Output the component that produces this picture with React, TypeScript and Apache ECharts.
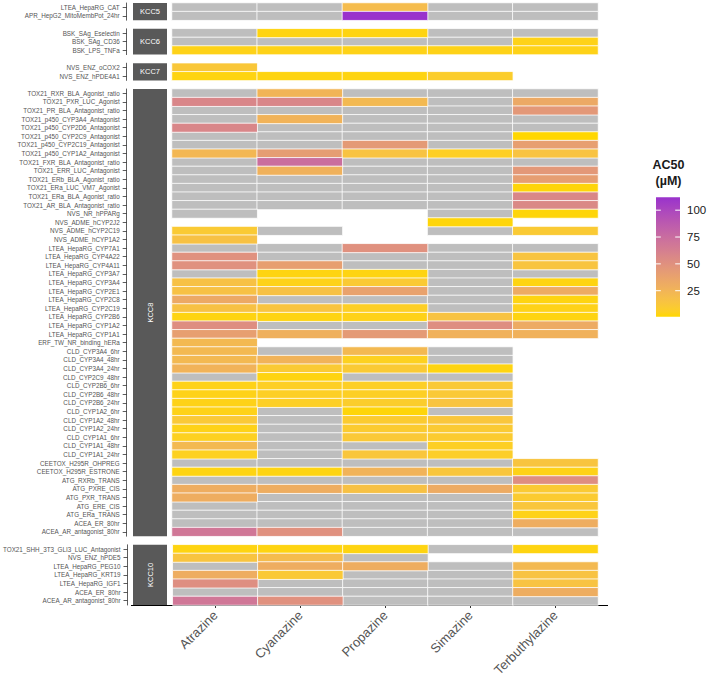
import { useEffect, useRef } from "react";
import * as echarts from "echarts";

// ---- data -----------------------------------------------------------------
// AC50 values in µM. NA = tested but no AC50 (drawn grey); __ = not tested (blank).
const NA = "NA";
const __ = null;

const compounds = ["Atrazine", "Cyanazine", "Propazine", "Simazine", "Terbuthylazine"];

const kcc5Assays = ["LTEA_HepaRG_CAT", "APR_HepG2_MitoMembPot_24hr"];
const kcc5AC50 = [
  [NA, NA, 20, NA, NA],
  [NA, NA, 112, NA, NA],
];

const kcc6Assays = ["BSK_SAg_Eselectin", "BSK_SAg_CD36", "BSK_LPS_TNFa"];
const kcc6AC50 = [
  [NA, 3, 3, NA, NA],
  [NA, NA, NA, NA, 4],
  [4, 4, 4, 4, 4],
];

const kcc7Assays = ["NVS_ENZ_oCOX2", "NVS_ENZ_hPDE4A1"];
const kcc7AC50 = [
  [12, __, __, __, __],
  [3, 3, 3, 8, __],
];

const kcc8Assays = [
  "TOX21_RXR_BLA_Agonist_ratio",
  "TOX21_PXR_LUC_Agonist",
  "TOX21_PR_BLA_Antagonist_ratio",
  "TOX21_p450_CYP3A4_Antagonist",
  "TOX21_p450_CYP2D6_Antagonist",
  "TOX21_p450_CYP2C9_Antagonist",
  "TOX21_p450_CYP2C19_Antagonist",
  "TOX21_p450_CYP1A2_Antagonist",
  "TOX21_FXR_BLA_Antagonist_ratio",
  "TOX21_ERR_LUC_Antagonist",
  "TOX21_ERb_BLA_Agonist_ratio",
  "TOX21_ERa_LUC_VM7_Agonist",
  "TOX21_ERa_BLA_Agonist_ratio",
  "TOX21_AR_BLA_Antagonist_ratio",
  "NVS_NR_hPPARg",
  "NVS_ADME_hCYP2J2",
  "NVS_ADME_hCYP2C19",
  "NVS_ADME_hCYP1A2",
  "LTEA_HepaRG_CYP7A1",
  "LTEA_HepaRG_CYP4A22",
  "LTEA_HepaRG_CYP4A11",
  "LTEA_HepaRG_CYP3A7",
  "LTEA_HepaRG_CYP3A4",
  "LTEA_HepaRG_CYP2E1",
  "LTEA_HepaRG_CYP2C8",
  "LTEA_HepaRG_CYP2C19",
  "LTEA_HepaRG_CYP2B6",
  "LTEA_HepaRG_CYP1A2",
  "LTEA_HepaRG_CYP1A1",
  "ERF_TW_NR_binding_hERa",
  "CLD_CYP3A4_6hr",
  "CLD_CYP3A4_48hr",
  "CLD_CYP3A4_24hr",
  "CLD_CYP2C9_48hr",
  "CLD_CYP2B6_6hr",
  "CLD_CYP2B6_48hr",
  "CLD_CYP2B6_24hr",
  "CLD_CYP1A2_6hr",
  "CLD_CYP1A2_48hr",
  "CLD_CYP1A2_24hr",
  "CLD_CYP1A1_6hr",
  "CLD_CYP1A1_48hr",
  "CLD_CYP1A1_24hr",
  "CEETOX_H295R_OHPREG",
  "CEETOX_H295R_ESTRONE",
  "ATG_RXRb_TRANS",
  "ATG_PXRE_CIS",
  "ATG_PXR_TRANS",
  "ATG_ERE_CIS",
  "ATG_ERa_TRANS",
  "ACEA_ER_80hr",
  "ACEA_AR_antagonist_80hr",
];
const kcc8AC50 = [
  [NA, 25, NA, NA, NA],
  [58, 58, 22, NA, 33],
  [NA, NA, NA, NA, 45],
  [NA, 26, NA, NA, NA],
  [58, NA, NA, NA, NA],
  [NA, NA, NA, NA, 0.8],
  [NA, NA, 44, NA, 40],
  [23, 42, 15, 6, 15],
  [NA, 74, NA, NA, NA],
  [NA, 27, NA, NA, 45],
  [NA, NA, NA, NA, 41],
  [NA, NA, NA, NA, 2],
  [NA, NA, NA, NA, 57],
  [NA, NA, NA, NA, 56],
  [NA, __, __, NA, 2],
  [__, __, __, 2, __],
  [10, NA, __, NA, 10],
  [16, __, __, __, __],
  [NA, NA, 50, NA, NA],
  [50, NA, NA, NA, 14],
  [50, 40, NA, NA, 14],
  [NA, 3, 3, NA, NA],
  [16, 4, 10, NA, 3],
  [16, 16, 38, NA, 32],
  [33, NA, NA, NA, 3],
  [16, 14, 6, NA, 4],
  [3, 3, 4, 15, 3],
  [52, NA, NA, 52, 32],
  [40, 28, 44, 27, 27],
  [22, __, __, __, __],
  [22, NA, 22, NA, __],
  [22, 26, 5, NA, __],
  [26, 10, 10, 3, __],
  [NA, 3, NA, NA, __],
  [4, 6, 6, 11, __],
  [4, 6, 6, 11, __],
  [4, 6, 8, 14, __],
  [4, NA, 2, NA, __],
  [11, NA, 9, 13, __],
  [4, NA, 9, 10, __],
  [5, NA, 11, 9, __],
  [22, NA, NA, 6, __],
  [5, NA, 13, 7, __],
  [NA, NA, NA, NA, 14],
  [3, 3, 26, 13, 4],
  [NA, NA, NA, NA, 52],
  [30, 30, 16, 32, 10],
  [30, NA, NA, NA, 9],
  [NA, NA, NA, NA, 13],
  [NA, NA, NA, NA, 4],
  [NA, NA, NA, NA, 30],
  [68, 50, NA, NA, NA],
];

const kcc10Assays = [
  "TOX21_SHH_3T3_GLI3_LUC_Antagonist",
  "NVS_ENZ_hPDE5",
  "LTEA_HepaRG_PEG10",
  "LTEA_HepaRG_KRT19",
  "LTEA_HepaRG_IGF1",
  "ACEA_ER_80hr",
  "ACEA_AR_antagonist_80hr",
];
const kcc10AC50 = [
  [3, 3, 3, NA, 3],
  [14, 20, NA, __, __],
  [NA, 30, 30, NA, 22],
  [30, 11, NA, NA, 15],
  [52, NA, NA, NA, 15],
  [NA, NA, NA, NA, 30],
  [68, 50, NA, NA, NA],
];

const panels = [
  { label: "KCC5", assays: kcc5Assays, values: kcc5AC50, vertical: false },
  { label: "KCC6", assays: kcc6Assays, values: kcc6AC50, vertical: false },
  { label: "KCC7", assays: kcc7Assays, values: kcc7AC50, vertical: false },
  { label: "KCC8", assays: kcc8Assays, values: kcc8AC50, vertical: true },
  { label: "KCC10", assays: kcc10Assays, values: kcc10AC50, vertical: true },
];

const legendTicks = [25, 50, 75, 100];
const legendTitle = ["AC50", "(µM)"];
const lowColor = "#FFD700";
const highColor = "#9932CC";
const naColor = "#BEBEBE";

// ---- colour ramp interpolated in CIELAB ------------------------------------
function toLab(hex: string): number[] {
  const n = parseInt(hex.slice(1), 16);
  const lin = [(n >> 16) & 255, (n >> 8) & 255, n & 255].map((v) => {
    const c = v / 255;
    return c <= 0.04045 ? c / 12.92 : Math.pow((c + 0.055) / 1.055, 2.4);
  });
  const x = (0.4124 * lin[0] + 0.3576 * lin[1] + 0.1805 * lin[2]) / 0.95047;
  const y = 0.2126 * lin[0] + 0.7152 * lin[1] + 0.0722 * lin[2];
  const z = (0.0193 * lin[0] + 0.1192 * lin[1] + 0.9505 * lin[2]) / 1.08883;
  const f = (t: number) => (t > 0.008856 ? Math.cbrt(t) : 7.787 * t + 16 / 116);
  const fx = f(x), fy = f(y), fz = f(z);
  return [116 * fy - 16, 500 * (fx - fy), 200 * (fy - fz)];
}

function fromLab(lab: number[]): string {
  const fy = (lab[0] + 16) / 116;
  const fx = fy + lab[1] / 500;
  const fz = fy - lab[2] / 200;
  const inv = (t: number) => (t * t * t > 0.008856 ? t * t * t : (t - 16 / 116) / 7.787);
  const x = inv(fx) * 0.95047, y = inv(fy), z = inv(fz) * 1.08883;
  const rgb = [
    3.2406 * x - 1.5372 * y - 0.4986 * z,
    -0.9689 * x + 1.8758 * y + 0.0415 * z,
    0.0557 * x - 0.204 * y + 1.057 * z,
  ];
  return (
    "#" +
    rgb
      .map((c) => {
        const cl = Math.min(1, Math.max(0, c));
        const v = cl <= 0.0031308 ? 12.92 * cl : 1.055 * Math.pow(cl, 1 / 2.4) - 0.055;
        return Math.round(v * 255).toString(16).padStart(2, "0");
      })
      .join("")
  );
}

function labRamp(a: string, b: string, steps: number): string[] {
  const la = toLab(a), lb = toLab(b);
  const out: string[] = [];
  for (let i = 0; i < steps; i++) {
    const t = i / (steps - 1);
    out.push(fromLab(la.map((v, k) => v + (lb[k] - v) * t)));
  }
  return out;
}

// ---- layout ----------------------------------------------------------------
const FONT = '"Liberation Sans", Arial, Helvetica, sans-serif';
const TOP = 3;
const ROW = 8.6;
const GAP = 8.6;
const PANEL_LEFT = 172;
const PANEL_WIDTH = 426;
const AXIS_X = 126.7;
const STRIP_X = 133;
const STRIP_W = 34;

const BAR_X = 656;
const BAR_Y = 197.3;
const BAR_W = 24;
const BAR_H = 119.4;

function buildOption() {
  const numbers: number[] = [];
  panels.forEach((p) =>
    p.values.forEach((row) => row.forEach((v) => typeof v === "number" && numbers.push(v)))
  );
  const vMin = Math.min(...numbers);
  const vMax = Math.max(...numbers);
  const ramp = labRamp(lowColor, highColor, 25);

  const grids: any[] = [];
  const xAxes: any[] = [];
  const yAxes: any[] = [];
  const series: any[] = [];
  const graphics: any[] = [];
  const valueSeriesIdx: number[] = [];
  const naSeriesIdx: number[] = [];

  let top = TOP;
  panels.forEach((p, i) => {
    const height = p.assays.length * ROW;
    const last = i === panels.length - 1;
    grids.push({ left: PANEL_LEFT, top, width: PANEL_WIDTH, height, containLabel: false });
    xAxes.push({
      type: "category",
      gridIndex: i,
      data: compounds,
      show: last,
      axisLine: { show: false },
      axisTick: { show: last, alignWithLabel: true, length: 3, lineStyle: { color: "#333", width: 1 } },
      axisLabel: {
        show: last,
        interval: 0,
        rotate: 45,
        margin: 8,
        fontSize: 13,
        color: "#555555",
        fontFamily: FONT,
      },
      splitLine: { show: false },
    });
    yAxes.push({
      type: "category",
      gridIndex: i,
      data: p.assays,
      inverse: true,
      offset: PANEL_LEFT - AXIS_X,
      axisLine: { show: true, lineStyle: { color: "#333", width: 0.8 } },
      axisTick: { show: true, alignWithLabel: true, length: 4, lineStyle: { color: "#333", width: 0.8 } },
      axisLabel: { interval: 0, fontSize: 6.3, color: "#555555", margin: 7, fontFamily: FONT },
      splitLine: { show: false },
    });

    const valued: any[] = [];
    const inactive: any[] = [];
    p.values.forEach((row, r) =>
      row.forEach((v, c) => {
        if (typeof v === "number") valued.push([c, r, v]);
        else if (v === NA) inactive.push([c, r, 0]);
      })
    );
    naSeriesIdx.push(series.length);
    series.push({
      type: "heatmap",
      xAxisIndex: i,
      yAxisIndex: i,
      data: inactive,
      itemStyle: { borderColor: "#ffffff", borderWidth: 0.8 },
      emphasis: { disabled: true },
    });
    valueSeriesIdx.push(series.length);
    series.push({
      type: "heatmap",
      xAxisIndex: i,
      yAxisIndex: i,
      data: valued,
      itemStyle: { borderColor: "#ffffff", borderWidth: 0.8 },
      emphasis: { disabled: true },
    });

    // facet strip
    graphics.push({
      type: "rect",
      shape: { x: STRIP_X, y: top, width: STRIP_W, height },
      style: { fill: "#595959" },
      silent: true,
    });
    graphics.push({
      type: "text",
      x: STRIP_X + STRIP_W / 2,
      y: top + height / 2,
      rotation: p.vertical ? Math.PI / 2 : 0,
      style: {
        text: p.label,
        fill: "#ffffff",
        fontSize: 7.5,
        fontFamily: FONT,
        align: "center",
        verticalAlign: "middle",
      },
      silent: true,
    });

    top += height + GAP;
  });

  const bottom = top - GAP;
  graphics.push({
    type: "line",
    shape: { x1: 131, y1: bottom + 0.5, x2: 608, y2: bottom + 0.5 },
    style: { stroke: "#000000", lineWidth: 1.2 },
    silent: true,
  });

  // colour bar legend
  const yOf = (v: number) => BAR_Y + BAR_H - ((v - vMin) / (vMax - vMin)) * BAR_H;
  graphics.push({
    type: "rect",
    shape: { x: BAR_X, y: BAR_Y, width: BAR_W, height: BAR_H },
    style: {
      fill: new echarts.graphic.LinearGradient(
        0, 1, 0, 0,
        ramp.map((c, k) => ({ offset: k / (ramp.length - 1), color: c }))
      ),
    },
    silent: true,
  });
  legendTicks.forEach((t) => {
    const y = yOf(t);
    graphics.push({
      type: "line",
      shape: { x1: BAR_X, y1: y, x2: BAR_X + BAR_W / 5, y2: y },
      style: { stroke: "#ffffff", lineWidth: 1 },
      silent: true,
    });
    graphics.push({
      type: "line",
      shape: { x1: BAR_X + BAR_W - BAR_W / 5, y1: y, x2: BAR_X + BAR_W, y2: y },
      style: { stroke: "#ffffff", lineWidth: 1 },
      silent: true,
    });
    graphics.push({
      type: "text",
      x: BAR_X + BAR_W + 7,
      y,
      style: {
        text: String(t),
        fill: "#1A1A1A",
        fontSize: 11.5,
        fontFamily: FONT,
        align: "left",
        verticalAlign: "middle",
      },
      silent: true,
    });
  });
  legendTitle.forEach((line, k) => {
    graphics.push({
      type: "text",
      x: 668.5,
      y: 165 + k * 15.5,
      style: {
        text: line,
        fill: "#1A1A1A",
        fontSize: 12.5,
        fontWeight: "bold",
        fontFamily: FONT,
        align: "center",
        verticalAlign: "middle",
      },
      silent: true,
    });
  });

  return {
    animation: false,
    backgroundColor: "#ffffff",
    grid: grids,
    xAxis: xAxes,
    yAxis: yAxes,
    visualMap: [
      {
        type: "continuous",
        show: false,
        min: vMin,
        max: vMax,
        dimension: 2,
        seriesIndex: valueSeriesIdx,
        inRange: { color: ramp },
      },
      {
        type: "continuous",
        show: false,
        min: 0,
        max: 1,
        dimension: 2,
        seriesIndex: naSeriesIdx,
        inRange: { color: [naColor, naColor] },
      },
    ],
    series,
    graphic: graphics,
  };
}

export default function App() {
  const ref = useRef<HTMLDivElement>(null);
  useEffect(() => {
    if (!ref.current) return;
    const chart = echarts.init(ref.current, undefined, { renderer: "svg" });
    chart.setOption(buildOption() as any);
    return () => chart.dispose();
  }, []);
  return (
    <div
      ref={ref}
      style={{ position: "fixed", left: 0, top: 0, width: 708, height: 680, background: "#fff" }}
    />
  );
}
